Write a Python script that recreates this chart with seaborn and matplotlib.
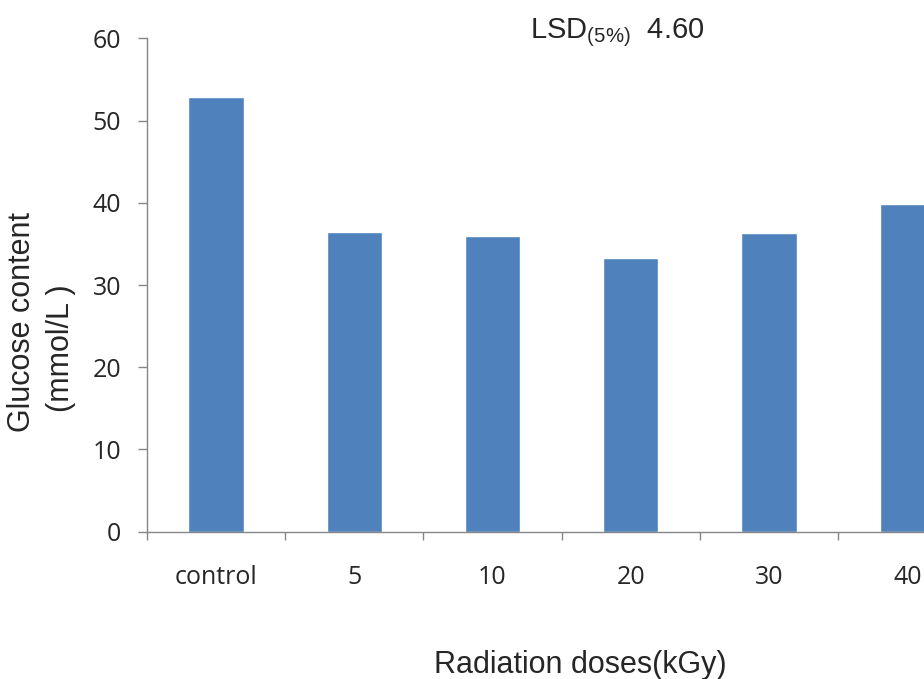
import matplotlib
matplotlib.use("Agg")
import pandas as pd
import seaborn as sns
from matplotlib import pyplot as plt
from matplotlib.ticker import FixedLocator

# dati
doses = ["control", "5", "10", "20", "30", "40"]
glucose = [52.9, 36.5, 36.0, 33.3, 36.3, 39.8]
yticks = [0, 10, 20, 30, 40, 50, 60]

table = pd.DataFrame({"dose": doses, "glucose": glucose})

sns.set_style("white")
plt.rcParams["font.family"] = ["Liberation Sans", "DejaVu Sans"]
plt.rcParams["mathtext.default"] = "regular"

axis_grey = "#868686"
text_col = "#262626"

fig = plt.figure(figsize=(9.24, 6.79), dpi=100)
# asse piu' largo della figura: l'ultima barra e' tagliata come nell'originale
ax = fig.add_axes([0.1588, 0.2169, 0.898, 0.7267])

sns.barplot(data=table, x="dose", y="glucose", color="#4F81BD",
            saturation=1, width=0.4, ax=ax)

ax.set_xlim(-0.5, len(doses) - 0.5)
ax.set_ylim(0, 60)
ax.set_yticks(yticks)

sns.despine(ax=ax)
for side in ["left", "bottom"]:
    ax.spines[side].set_color(axis_grey)
    ax.spines[side].set_linewidth(1.0)

# tick x sui confini delle categorie
ax.xaxis.set_minor_locator(FixedLocator([i - 0.5 for i in range(len(doses) + 1)]))
ax.tick_params(axis="x", which="major", length=0, pad=24, labelsize=18,
               labelcolor=text_col)
ax.tick_params(axis="x", which="minor", bottom=True, length=6, width=1,
               color=axis_grey, direction="out")
ax.tick_params(axis="y", left=True, length=6.5, width=1, color=axis_grey,
               direction="out", pad=12, labelsize=18, labelcolor=text_col)
for lab in ax.get_xticklabels() + ax.get_yticklabels():
    lab.set_fontfamily(["Open Sans", "DejaVu Sans"])

ax.set_xlabel("Radiation doses(kGy)", fontsize=22, color=text_col)
ax.xaxis.set_label_coords(0.522, -0.271)
ax.xaxis.label.set_va("center")

ax.set_ylabel("Glucose content", fontsize=22, color=text_col)
ax.yaxis.set_label_coords(-0.150, 0.425)
ax.yaxis.label.set_va("center")
ax.text(-0.103, 0.372, "(mmol/L )", transform=ax.transAxes, rotation=90,
        ha="center", va="center", fontsize=22, color=text_col)

fig.text(0.5736, 0.944, r"LSD$_{(5\%)}$  4.60", fontsize=21, color=text_col,
         ha="left", va="baseline")

fig.savefig("out.png", dpi=100)
